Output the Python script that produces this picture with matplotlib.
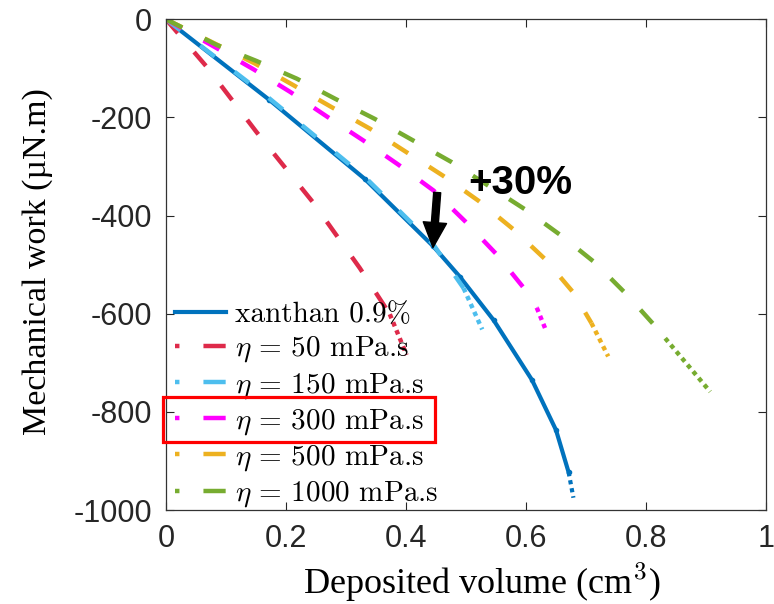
import matplotlib
matplotlib.use('Agg')
import matplotlib.pyplot as plt
from matplotlib.lines import Line2D
from matplotlib.patches import Rectangle

plt.rcParams['mathtext.fontset'] = 'cm'
plt.rcParams['axes.unicode_minus'] = False

# xanthan 0.9% measurements (solid) + short extrapolation (dotted)
xan_x = [0, 0.172, 0.331, 0.445, 0.49, 0.546, 0.61, 0.65, 0.671]
xan_y = [0, -164, -325, -462, -525, -613, -735, -837, -923]
xan_tail_x = [0.671, 0.679]
xan_tail_y = [-923, -975]

# newtonian fluids, dashed part then dotted tail
eta_labels = ['50', '150', '300', '500', '1000']
eta_colors = ['#DE2A4A', '#4DBEEE', '#FF00FF', '#EDB120', '#77AC30']

red_x = [0, 0.068, 0.151, 0.245, 0.323, 0.373]
red_y = [0, -97, -230, -373, -507, -601]
red_tail_x = [0.373, 0.401]
red_tail_y = [-601, -684]

cyan_x = [0, 0.172, 0.331, 0.445, 0.496]
cyan_y = [0, -161, -321, -458, -548]
cyan_tail_x = [0.496, 0.527]
cyan_tail_y = [-548, -632]

mag_x = [0, 0.082, 0.146, 0.207, 0.268, 0.329, 0.387, 0.446, 0.498, 0.551, 0.596, 0.618]
mag_y = [0, -57, -102, -148, -198, -247, -296, -349, -411, -479, -547, -588]
mag_tail_x = [0.618, 0.634]
mag_tail_y = [-588, -636]

orange_x = [0, 0.148, 0.212, 0.276, 0.34, 0.401, 0.462, 0.521, 0.579, 0.632, 0.679, 0.709]
orange_y = [0, -90, -134, -179, -223, -271, -319, -370, -428, -489, -557, -619]
orange_tail_x = [0.709, 0.737]
orange_tail_y = [-619, -687]

green_x = [0, 0.084, 0.151, 0.218, 0.282, 0.348, 0.412, 0.476, 0.598, 0.66, 0.715, 0.768, 0.818, 0.832]
green_y = [0, -52, -85, -121, -162, -203, -247, -291, -387, -442, -496, -561, -629, -650]
green_tail_x = [0.832, 0.907]
green_tail_y = [-650, -759]

curves = [(red_x, red_y, red_tail_x, red_tail_y),
          (cyan_x, cyan_y, cyan_tail_x, cyan_tail_y),
          (mag_x, mag_y, mag_tail_x, mag_tail_y),
          (orange_x, orange_y, orange_tail_x, orange_tail_y),
          (green_x, green_y, green_tail_x, green_tail_y)]

xticks = [0, 0.2, 0.4, 0.6, 0.8, 1]
xticklabels = ['0', '0.2', '0.4', '0.6', '0.8', '1']
yticks = [0, -200, -400, -600, -800, -1000]

fig = plt.figure(figsize=(7.74, 6.04), dpi=100)
ax = fig.add_axes([166/774, 94/604, 600/774, 490.7/604])

xan_color = '#0072BD'
ax.plot(xan_x, xan_y, color=xan_color, lw=3, marker='.', ms=6)
ax.plot(xan_tail_x, xan_tail_y, color=xan_color, lw=3, dashes=(1, 0.95))

for (x, y, tx, ty), c in zip(curves, eta_colors):
    ax.plot(x, y, color=c, lw=3.2, dashes=(4.1, 5.6))
    ax.plot(tx, ty, color=c, lw=3.2, dashes=(1, 0.95))

ax.set_xlim(0, 1)
ax.set_ylim(-1000, 0)
ax.set_xticks(xticks)
ax.set_xticklabels(xticklabels)
ax.set_yticks(yticks)
ax.tick_params(direction='in', length=6, width=0.8, top=True, right=True,
               labelsize=22, colors='#262626', pad=10)
for lab in ax.get_xticklabels() + ax.get_yticklabels():
    lab.set_family('Liberation Sans')
for s in ax.spines.values():
    s.set_color('#333333')
    s.set_linewidth(0.9)

ax.set_xlabel('Deposited volume (cm$^3$)', fontsize=26, family='Liberation Serif')
ax.set_ylabel('Mechanical work (µN.m)', fontsize=24.5, family='Liberation Serif')
ax.xaxis.label.set_va('baseline')
ax.xaxis.set_label_coords(0.526, -0.171)
ax.yaxis.set_label_coords(-0.188, 0.507)

# legend, set in computer modern
handles = [Line2D([], [], color=xan_color, lw=3)]
labels = ['xanthan 0.9%']
for lab, c in zip(eta_labels, eta_colors):
    handles.append(Line2D([], [], color=c, lw=3.2, dashes=(1, 5.4, 5, 0.5)))
    labels.append(r'$\eta\,=\,' + lab + r'$ mPa.s')
ax.legend(handles, labels, loc='center left', bbox_to_anchor=(0.015, 0.213),
          frameon=False, prop={'family': 'cmr10', 'size': 21}, handlelength=1.75,
          handletextpad=0.3, labelspacing=0.22, borderpad=0, borderaxespad=0)

# highlight box around the 300 mPa.s entry
fig.add_artist(Rectangle((163.3/774, (604-441.7)/604), (435-163.3)/774, 45/604,
                         transform=fig.transFigure, fill=False, ec='#FF0000', lw=2.3))

# +30% annotation
ax.annotate('', xy=(0.445, -465), xytext=(0.452, -353),
            arrowprops=dict(arrowstyle='simple,head_length=0.64,head_width=0.6,tail_width=0.18',
                            fc='k', ec='k', shrinkA=0, shrinkB=0, mutation_scale=28))
ax.text(0.503, -356, '+30%', fontsize=29, fontweight='bold', family='Liberation Sans',
        va='baseline')

fig.savefig('out.png', dpi=100)
